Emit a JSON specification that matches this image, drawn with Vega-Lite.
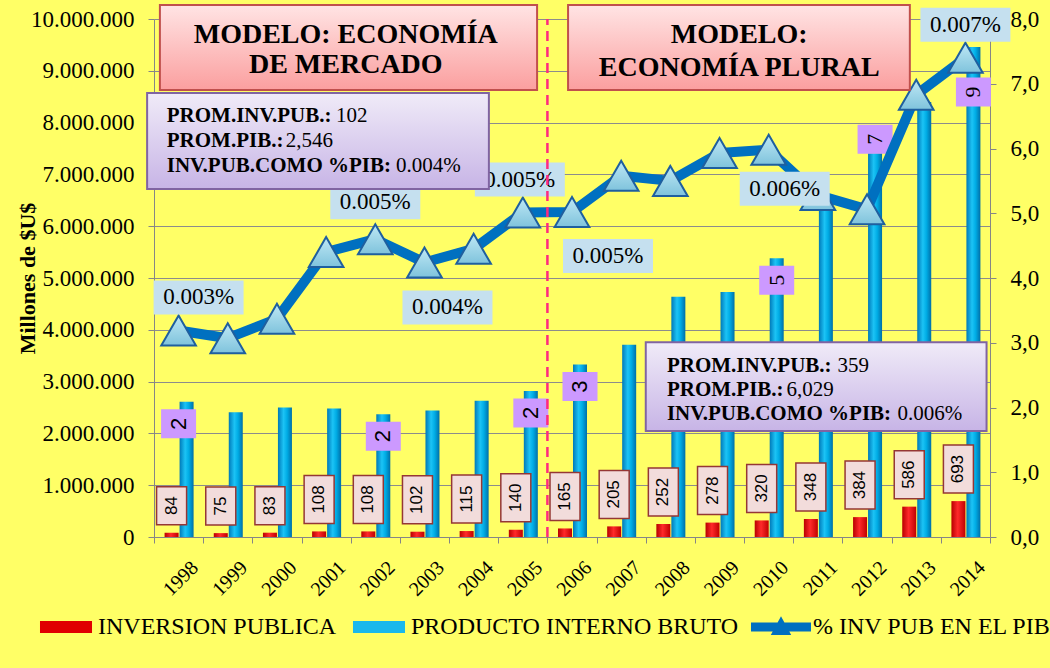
{
 "$schema": "https://vega.github.io/schema/vega-lite/v6.json",
 "width": 836,
 "height": 518,
 "autosize": {"type": "none"},
 "padding": {"left": 154, "top": 19, "right": 60, "bottom": 131},
 "background": "#ffff66",
 "config": {
  "view": {"fill": "white", "stroke": null},
  "locale": {"number": {"decimal": ",", "thousands": ".", "grouping": [3], "currency": ["$", ""]}},
  "font": "Liberation Serif",
  "legend": {"labelFont": "Liberation Serif", "labelFontSize": 24, "labelColor": "black"}
 },
 "datasets": {
  "main": [
   {"year": "1998", "pib": 2610000, "inv": 84, "pct": 3.19, "pct_label": "0.003%", "pib_label": "2"},
   {"year": "1999", "pib": 2410000, "inv": 75, "pct": 3.07},
   {"year": "2000", "pib": 2500000, "inv": 83, "pct": 3.37},
   {"year": "2001", "pib": 2480000, "inv": 108, "pct": 4.40},
   {"year": "2002", "pib": 2370000, "inv": 108, "pct": 4.60, "pct_label": "0.005%", "pib_label": "2"},
   {"year": "2003", "pib": 2440000, "inv": 102, "pct": 4.24, "pct_label": "0.004%"},
   {"year": "2004", "pib": 2630000, "inv": 115, "pct": 4.45},
   {"year": "2005", "pib": 2820000, "inv": 140, "pct": 5.01, "pct_label": "0.005%", "pib_label": "2"},
   {"year": "2006", "pib": 3330000, "inv": 165, "pct": 5.02, "pct_label": "0.005%", "pib_label": "3"},
   {"year": "2007", "pib": 3710000, "inv": 205, "pct": 5.58},
   {"year": "2008", "pib": 4640000, "inv": 252, "pct": 5.50},
   {"year": "2009", "pib": 4730000, "inv": 278, "pct": 5.93},
   {"year": "2010", "pib": 5380000, "inv": 320, "pct": 5.98, "pct_label": "0.006%", "pib_label": "5"},
   {"year": "2011", "pib": 6550000, "inv": 348, "pct": 5.28},
   {"year": "2012", "pib": 7410000, "inv": 384, "pct": 5.06, "pib_label": "7"},
   {"year": "2013", "pib": 8400000, "inv": 586, "pct": 6.83},
   {"year": "2014", "pib": 9460000, "inv": 693, "pct": 7.40, "pct_label": "0.007%", "pib_label": "9"}
  ]
 },
 "resolve": {"scale": {"x": "independent", "y": "independent"}},
 "layer": [
  {
   "data": {"name": "main"},
   "encoding": {
    "x": {
     "field": "year", "type": "ordinal",
     "scale": {"paddingInner": 0, "paddingOuter": 0},
     "axis": {
      "title": null, "labelAngle": -45, "labelFont": "Liberation Serif", "labelFontSize": 20,
      "labelColor": "black", "labelPadding": 14, "labelOffset": 9, "tickBand": "extent",
      "tickSize": 6, "tickColor": "#868686", "domainColor": "#868686", "grid": false
     }
    }
   },
   "resolve": {"scale": {"y": "independent"}},
   "layer": [
    {
     "encoding": {
      "y": {
       "field": "pib", "type": "quantitative",
       "scale": {"domain": [0, 10000000], "nice": false},
       "axis": {
        "orient": "left",
        "values": [0, 1000000, 2000000, 3000000, 4000000, 5000000, 6000000, 7000000, 8000000, 9000000, 10000000],
        "format": ",.0f",
        "labelFont": "Liberation Serif", "labelFontSize": 23, "labelColor": "black", "labelPadding": 14,
        "tickSize": 6, "tickColor": "#868686", "domainColor": "#868686",
        "grid": true, "gridColor": "#8c8c8c", "gridWidth": 1.2,
        "title": "Millones de $U$", "titleFont": "Liberation Serif", "titleFontSize": 22,
        "titleFontWeight": "bold", "titleColor": "black", "titleX": -127, "titleY": 259,
        "titleBaseline": "middle", "titleAngle": 270
       }
      }
     },
     "layer": [
      {
       "mark": {
        "type": "bar", "width": 14, "xOffset": 8,
        "fill": {"gradient": "linear", "x1": 0, "y1": 0, "x2": 1, "y2": 0,
         "stops": [{"offset": 0, "color": "#0079b8"}, {"offset": 0.4, "color": "#1cc3f5"}, {"offset": 0.65, "color": "#00ade6"}, {"offset": 1, "color": "#006fa8"}]}
       }
      },
      {
       "transform": [{"filter": "isValid(datum.pib_label)"}],
       "mark": {
        "type": "point", "shape": "M-1,-0.83H1V0.83H-1Z", "size": 1225, "filled": true,
        "fill": "#cc99ff", "strokeWidth": 0, "opacity": 1,
        "xOffset": {"expr": "datum.year == '1998' ? 0 : 8"},
        "yOffset": {"expr": "datum.year == '2012' ? -14 : (datum.year == '2014' ? 45 : 22)"}
       }
      },
      {
       "transform": [{"filter": "isValid(datum.pib_label)"}],
       "mark": {
        "type": "text", "angle": 270, "fontSize": 22, "color": "black", "align": "center", "baseline": "middle",
        "font": {"expr": "datum.pib_label >= '5' ? 'Liberation Serif' : 'Liberation Sans'"},
        "xOffset": {"expr": "datum.year == '1998' ? 0 : 8"},
        "yOffset": {"expr": "datum.year == '2012' ? -14 : (datum.year == '2014' ? 45 : 22)"}
       },
       "encoding": {"text": {"field": "pib_label"}}
      }
     ]
    },
    {
     "encoding": {
      "y": {"field": "inv", "type": "quantitative", "scale": {"domain": [0, 10000], "nice": false}, "axis": null}
     },
     "layer": [
      {
       "mark": {
        "type": "bar", "width": 14, "xOffset": -7,
        "fill": {"gradient": "linear", "x1": 0, "y1": 0, "x2": 1, "y2": 0,
         "stops": [{"offset": 0, "color": "#b80000"}, {"offset": 0.45, "color": "#ff2a2a"}, {"offset": 1, "color": "#c00000"}]}
       }
      },
      {
       "transform": [{"filter": "datum.inv < 100"}],
       "mark": {
        "type": "point", "shape": "M-0.79,-1H0.79V1H-0.79Z", "size": 1444, "filled": true,
        "fill": "#f2dcdb", "stroke": "#953735", "strokeWidth": 1.5, "opacity": 1, "xOffset": -7, "yOffset": -27
       }
      },
      {
       "transform": [{"filter": "datum.inv >= 100"}],
       "mark": {
        "type": "point", "shape": "M-0.625,-1H0.625V1H-0.625Z", "size": 2304, "filled": true,
        "fill": "#f2dcdb", "stroke": "#953735", "strokeWidth": 1.5, "opacity": 1, "xOffset": -7, "yOffset": -32
       }
      },
      {
       "mark": {
        "type": "text", "angle": 270, "font": "Liberation Sans", "fontSize": 17, "color": "black",
        "align": "center", "baseline": "middle", "xOffset": -7,
        "yOffset": {"expr": "datum.inv < 100 ? -27 : -32"}
       },
       "encoding": {"text": {"field": "inv", "type": "quantitative", "format": "d"}}
      }
     ]
    },
    {
     "encoding": {
      "y": {
       "field": "pct", "type": "quantitative",
       "scale": {"domain": [0, 8], "nice": false},
       "axis": {
        "orient": "right", "values": [0, 1, 2, 3, 4, 5, 6, 7, 8], "format": ".1f",
        "labelFont": "Liberation Serif", "labelFontSize": 23, "labelColor": "black", "labelPadding": 14,
        "tickSize": 6, "tickColor": "#868686", "domainColor": "#868686", "grid": false, "title": null
       }
      }
     },
     "layer": [
      {"mark": {"type": "line", "stroke": "#0070c0", "strokeWidth": 10, "strokeJoin": "round", "strokeCap": "round"}},
      {
       "mark": {
        "type": "point", "shape": "triangle-up", "size": 1200, "filled": true, "opacity": 1,
        "fill": {"gradient": "linear", "x1": 0, "y1": 0, "x2": 0, "y2": 1,
         "stops": [{"offset": 0, "color": "#bfe8f5"}, {"offset": 1, "color": "#7fc3dc"}]},
        "stroke": "#1f5f9f", "strokeWidth": 2
       }
      },
      {
       "transform": [{"filter": "isValid(datum.pct_label)"}],
       "mark": {
        "type": "point", "shape": "M-1,-0.378H1V0.378H-1Z", "size": 8100, "filled": true,
        "fill": "#c5e0ef", "strokeWidth": 0, "opacity": 1,
        "xOffset": {"expr": "datum.year=='1998'?20:(datum.year=='2003'?23:(datum.year=='2005'?-3:(datum.year=='2006'?36:(datum.year=='2010'?16:0))))"},
        "yOffset": {"expr": "datum.year=='2002'?-37:(datum.year=='2003'?45:(datum.year=='2006'?44:(datum.year=='2010'?39:-33)))"}
       }
      },
      {
       "transform": [{"filter": "isValid(datum.pct_label)"}],
       "mark": {
        "type": "text", "font": "Liberation Serif", "fontSize": 23, "color": "black", "align": "center", "baseline": "middle",
        "xOffset": {"expr": "datum.year=='1998'?20:(datum.year=='2003'?23:(datum.year=='2005'?-3:(datum.year=='2006'?36:(datum.year=='2010'?16:0))))"},
        "yOffset": {"expr": "datum.year=='2002'?-37:(datum.year=='2003'?45:(datum.year=='2006'?44:(datum.year=='2010'?39:-33)))"}
       },
       "encoding": {"text": {"field": "pct_label"}}
      }
     ]
    }
   ]
  },
  {
   "data": {"values": [{}]},
   "layer": [
    {
     "mark": {"type": "rule", "stroke": "#ff2a7f", "strokeWidth": 2.5, "strokeDash": [10, 6]},
     "encoding": {
      "x": {"datum": 2005.5, "type": "quantitative", "scale": {"domain": [1997.5, 2014.5], "nice": false, "zero": false}, "axis": null},
      "y": {"datum": 0, "type": "quantitative", "scale": {"domain": [0, 10000000], "nice": false, "zero": false}, "axis": null},
      "y2": {"datum": 10000000}
     }
    },
    {
     "mark": {"type": "rect", "stroke": "#c0504d", "strokeWidth": 2,
      "fill": {"gradient": "linear", "x1": 0, "y1": 0, "x2": 0, "y2": 1,
       "stops": [{"offset": 0, "color": "#ffe4e4"}, {"offset": 1, "color": "#fb9f9f"}]}},
     "encoding": {
      "x": {"datum": 1997.62, "type": "quantitative", "scale": {"domain": [1997.5, 2014.5], "nice": false, "zero": false}, "axis": null},
      "x2": {"datum": 2005.29},
      "y": {"datum": 10270000, "type": "quantitative", "scale": {"domain": [0, 10000000], "nice": false, "zero": false}, "axis": null},
      "y2": {"datum": 8630000}
     }
    },
    {
     "mark": {"type": "rect", "stroke": "#c0504d", "strokeWidth": 2,
      "fill": {"gradient": "linear", "x1": 0, "y1": 0, "x2": 0, "y2": 1,
       "stops": [{"offset": 0, "color": "#ffe4e4"}, {"offset": 1, "color": "#fb9f9f"}]}},
     "encoding": {
      "x": {"datum": 2005.92, "type": "quantitative", "scale": {"domain": [1997.5, 2014.5], "nice": false, "zero": false}, "axis": null},
      "x2": {"datum": 2012.87},
      "y": {"datum": 10270000, "type": "quantitative", "scale": {"domain": [0, 10000000], "nice": false, "zero": false}, "axis": null},
      "y2": {"datum": 8630000}
     }
    },
    {
     "mark": {"type": "text", "text": ["MODELO: ECONOMÍA", "DE MERCADO"], "font": "Liberation Serif", "fontSize": 28,
      "fontWeight": "bold", "lineHeight": 30, "align": "center", "baseline": "middle", "color": "black"},
     "encoding": {
      "x": {"datum": 2001.40, "type": "quantitative", "scale": {"domain": [1997.5, 2014.5], "nice": false, "zero": false}, "axis": null},
      "y": {"datum": 9700000, "type": "quantitative", "scale": {"domain": [0, 10000000], "nice": false, "zero": false}, "axis": null}
     }
    },
    {
     "mark": {"type": "text", "text": ["MODELO:", "ECONOMÍA PLURAL"], "font": "Liberation Serif", "fontSize": 28,
      "fontWeight": "bold", "lineHeight": 33, "align": "center", "baseline": "middle", "color": "black"},
     "encoding": {
      "x": {"datum": 2009.40, "type": "quantitative", "scale": {"domain": [1997.5, 2014.5], "nice": false, "zero": false}, "axis": null},
      "y": {"datum": 9700000, "type": "quantitative", "scale": {"domain": [0, 10000000], "nice": false, "zero": false}, "axis": null}
     }
    },
    {
     "mark": {"type": "rect", "stroke": "#8064a2", "strokeWidth": 2,
      "fill": {"gradient": "linear", "x1": 0, "y1": 0, "x2": 0, "y2": 1,
       "stops": [{"offset": 0, "color": "#f0ebf8"}, {"offset": 1, "color": "#c7b4e6"}]}},
     "encoding": {
      "x": {"datum": 1997.36, "type": "quantitative", "scale": {"domain": [1997.5, 2014.5], "nice": false, "zero": false}, "axis": null},
      "x2": {"datum": 2004.31},
      "y": {"datum": 8571000, "type": "quantitative", "scale": {"domain": [0, 10000000], "nice": false, "zero": false}, "axis": null},
      "y2": {"datum": 6718000}
     }
    },
    {
     "mark": {"type": "rect", "stroke": "#8064a2", "strokeWidth": 2,
      "fill": {"gradient": "linear", "x1": 0, "y1": 0, "x2": 0, "y2": 1,
       "stops": [{"offset": 0, "color": "#f0ebf8"}, {"offset": 1, "color": "#c7b4e6"}]}},
     "encoding": {
      "x": {"datum": 2007.50, "type": "quantitative", "scale": {"domain": [1997.5, 2014.5], "nice": false, "zero": false}, "axis": null},
      "x2": {"datum": 2014.43},
      "y": {"datum": 3759000, "type": "quantitative", "scale": {"domain": [0, 10000000], "nice": false, "zero": false}, "axis": null},
      "y2": {"datum": 2046000}
     }
    },
    {
     "mark": {"type": "text", "text": ["PROM.INV.PUB.:", "PROM.PIB.:", "INV.PUB.COMO %PIB:"], "font": "Liberation Serif",
      "fontSize": 21, "fontWeight": "bold", "lineHeight": 25, "align": "left", "baseline": "alphabetic", "color": "black"},
     "encoding": {
      "x": {"datum": 1997.76, "type": "quantitative", "scale": {"domain": [1997.5, 2014.5], "nice": false, "zero": false}, "axis": null},
      "y": {"datum": 8017000, "type": "quantitative", "scale": {"domain": [0, 10000000], "nice": false, "zero": false}, "axis": null}
     }
    },
    {
     "mark": {"type": "text", "text": ["PROM.INV.PUB.:", "PROM.PIB.:", "INV.PUB.COMO %PIB:"], "font": "Liberation Serif",
      "fontSize": 21, "fontWeight": "bold", "lineHeight": 24, "align": "left", "baseline": "alphabetic", "color": "black"},
     "encoding": {
      "x": {"datum": 2007.93, "type": "quantitative", "scale": {"domain": [1997.5, 2014.5], "nice": false, "zero": false}, "axis": null},
      "y": {"datum": 3191000, "type": "quantitative", "scale": {"domain": [0, 10000000], "nice": false, "zero": false}, "axis": null}
     }
    },
    {
     "mark": {"type": "text", "text": "102", "font": "Liberation Serif", "fontSize": 21, "align": "left", "baseline": "alphabetic", "color": "black"},
     "encoding": {
      "x": {"datum": 2001.20, "type": "quantitative", "scale": {"domain": [1997.5, 2014.5], "nice": false, "zero": false}, "axis": null},
      "y": {"datum": 8017000, "type": "quantitative", "scale": {"domain": [0, 10000000], "nice": false, "zero": false}, "axis": null}
     }
    },
    {
     "mark": {"type": "text", "text": "2,546", "font": "Liberation Serif", "fontSize": 21, "align": "left", "baseline": "alphabetic", "color": "black"},
     "encoding": {
      "x": {"datum": 2000.18, "type": "quantitative", "scale": {"domain": [1997.5, 2014.5], "nice": false, "zero": false}, "axis": null},
      "y": {"datum": 7535000, "type": "quantitative", "scale": {"domain": [0, 10000000], "nice": false, "zero": false}, "axis": null}
     }
    },
    {
     "mark": {"type": "text", "text": "0.004%", "font": "Liberation Serif", "fontSize": 21, "align": "left", "baseline": "alphabetic", "color": "black"},
     "encoding": {
      "x": {"datum": 2002.42, "type": "quantitative", "scale": {"domain": [1997.5, 2014.5], "nice": false, "zero": false}, "axis": null},
      "y": {"datum": 7052000, "type": "quantitative", "scale": {"domain": [0, 10000000], "nice": false, "zero": false}, "axis": null}
     }
    },
    {
     "mark": {"type": "text", "text": "359", "font": "Liberation Serif", "fontSize": 21, "align": "left", "baseline": "alphabetic", "color": "black"},
     "encoding": {
      "x": {"datum": 2011.40, "type": "quantitative", "scale": {"domain": [1997.5, 2014.5], "nice": false, "zero": false}, "axis": null},
      "y": {"datum": 3191000, "type": "quantitative", "scale": {"domain": [0, 10000000], "nice": false, "zero": false}, "axis": null}
     }
    },
    {
     "mark": {"type": "text", "text": "6,029", "font": "Liberation Serif", "fontSize": 21, "align": "left", "baseline": "alphabetic", "color": "black"},
     "encoding": {
      "x": {"datum": 2010.36, "type": "quantitative", "scale": {"domain": [1997.5, 2014.5], "nice": false, "zero": false}, "axis": null},
      "y": {"datum": 2728000, "type": "quantitative", "scale": {"domain": [0, 10000000], "nice": false, "zero": false}, "axis": null}
     }
    },
    {
     "mark": {"type": "text", "text": "0.006%", "font": "Liberation Serif", "fontSize": 21, "align": "left", "baseline": "alphabetic", "color": "black"},
     "encoding": {
      "x": {"datum": 2012.62, "type": "quantitative", "scale": {"domain": [1997.5, 2014.5], "nice": false, "zero": false}, "axis": null},
      "y": {"datum": 2264000, "type": "quantitative", "scale": {"domain": [0, 10000000], "nice": false, "zero": false}, "axis": null}
     }
    },
    {
     "data": {"values": [{"serie": "INVERSION PUBLICA"}, {"serie": "PRODUCTO INTERNO BRUTO"}, {"serie": "% INV PUB EN EL PIB"}]},
     "mark": {"type": "point", "filled": true, "opacity": 0},
     "encoding": {
      "color": {
       "field": "serie", "type": "nominal",
       "scale": {"domain": ["INVERSION PUBLICA", "PRODUCTO INTERNO BRUTO", "% INV PUB EN EL PIB"], "range": ["#e00000", "#1ab8ec", "#0070c0"]},
       "legend": {"orient": "none", "legendX": -118, "legendY": 578, "direction": "horizontal", "title": null,
        "symbolSize": 3600, "symbolOpacity": 1, "symbolStrokeWidth": 0, "labelFont": "Liberation Serif", "labelFontSize": 24,
        "labelColor": "black", "labelOffset": 2, "columnPadding": 12, "labelLimit": 500, "padding": 0}
      },
      "shape": {
       "field": "serie", "type": "nominal",
       "scale": {"domain": ["INVERSION PUBLICA", "PRODUCTO INTERNO BRUTO", "% INV PUB EN EL PIB"],
        "range": ["M-0.867,-0.2H0.867V0.2H-0.867Z", "M-0.867,-0.2H0.867V0.2H-0.867Z", "M-1,-0.15H1V0.15H-1Z M0,-0.36L0.34,0.27H-0.34Z"]},
       "legend": {"orient": "none", "legendX": -118, "legendY": 578, "direction": "horizontal", "title": null,
        "symbolSize": 3600, "symbolOpacity": 1, "symbolStrokeWidth": 0, "labelFont": "Liberation Serif", "labelFontSize": 24,
        "labelColor": "black", "labelOffset": 2, "columnPadding": 12, "labelLimit": 500, "padding": 0}
      }
     }
    }
   ]
  }
 ]
}
